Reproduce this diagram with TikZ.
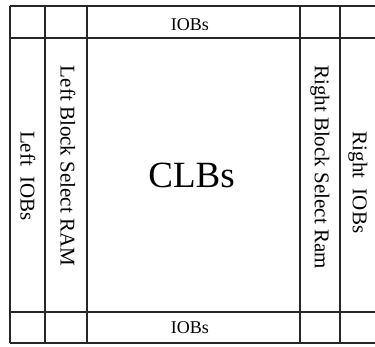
\documentclass[tikz,border=0pt]{standalone}
\usepackage{fontspec}
\setmainfont{Liberation Serif}
\begin{document}
\begin{tikzpicture}[x=1pt,y=-1pt,
  grid/.style={line width=1.3pt,draw=black!85},
  small/.style={inner sep=0pt,font=\fontsize{18}{20}\selectfont},
  side/.style={inner sep=0pt,rotate=-90,font=\fontsize{21}{23}\selectfont},
  big/.style={inner sep=0pt,font=\fontsize{37}{40}\selectfont}]
  \useasboundingbox (0,0) rectangle (375,347);
  % horizontal rules
  \foreach \y in {6,38,312,343}
    \draw[grid] (10,\y) -- (375,\y);
  % vertical rules
  \draw[grid] (10,6) -- (10,343);
  \foreach \x in {45,87,300,340}
    \draw[grid] (\x,6) -- (\x,343);
  % labels
  \node[small] (iobtop) at (190,25) {IOBs};
  \node[small] (iobbot) at (190,328) {IOBs};
  \node[big] (clbs) at (191.5,175) {CLBs};
  \node[side] (leftiob) at (28,176) {Left\ \ IOBs};
  \node[side] (leftram) at (68,166) {Left Block Select RAM};
  \node[side] (rightram) at (320,167) {Right Block Select Ram};
  \node[side] (rightiob) at (358,182.5) {Right\ \ IOBs};
\end{tikzpicture}
\end{document}
